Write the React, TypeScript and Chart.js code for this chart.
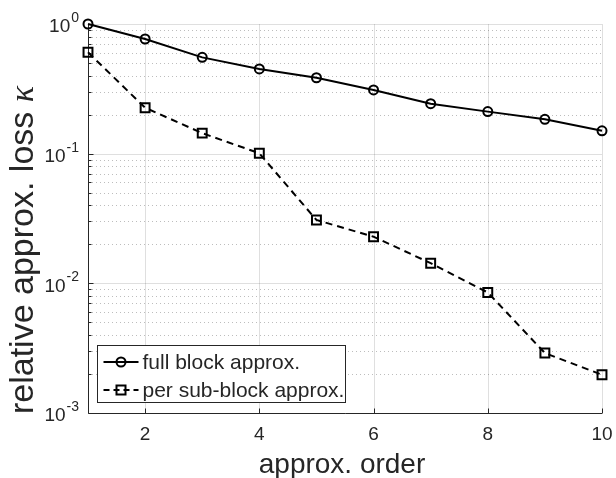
import { useEffect, useRef } from "react";
import { Chart, registerables } from "chart.js";

Chart.register(...registerables);

const orders = [1, 2, 3, 4, 5, 6, 7, 8, 9, 10];
const fullBlock = [1.0, 0.766, 0.553, 0.45, 0.385, 0.31, 0.243, 0.211, 0.184, 0.15];
const perSubBlock = [0.605, 0.226, 0.144, 0.1007, 0.0308, 0.0229, 0.0143, 0.0085, 0.0029, 0.00197];
const xTicks = [2, 4, 6, 8, 10];
const yDecades = [-3, -2, -1, 0];
const seriesNames = ["full block approx.", "per sub-block approx."];
const xTitle = "approx. order";
const yTitle = "relative approx. loss ";
const yTitleSymbol = "κ";

const FONT = '"Liberation Sans", Arial, Helvetica, sans-serif';
const SERIF_IT = 'italic 34px "Liberation Serif", "DejaVu Serif", serif';
const TEXT = "#262626";

const matlabPlugin = {
  id: "matlabLook",
  beforeDatasetsDraw(chart: any) {
    const { ctx, chartArea: a, scales } = chart;
    const x = scales.x;
    const y = scales.y;
    ctx.save();
    // minor grid (dotted)
    ctx.lineWidth = 1;
    ctx.strokeStyle = "rgba(38,38,38,0.3)";
    ctx.setLineDash([1, 3]);
    for (let d = -3; d < 0; d++) {
      for (let m = 2; m <= 9; m++) {
        const py = Math.round(y.getPixelForValue(m * Math.pow(10, d))) + 0.5;
        ctx.beginPath();
        ctx.moveTo(a.left, py);
        ctx.lineTo(a.right, py);
        ctx.stroke();
      }
    }
    // major grid
    ctx.setLineDash([]);
    ctx.strokeStyle = "rgba(38,38,38,0.15)";
    for (const t of xTicks) {
      const px = Math.round(x.getPixelForValue(t)) + 0.5;
      ctx.beginPath();
      ctx.moveTo(px, a.top);
      ctx.lineTo(px, a.bottom);
      ctx.stroke();
    }
    for (const d of yDecades) {
      const py = Math.round(y.getPixelForValue(Math.pow(10, d))) + 0.5;
      ctx.beginPath();
      ctx.moveTo(a.left, py);
      ctx.lineTo(a.right, py);
      ctx.stroke();
    }
    // axis lines
    ctx.strokeStyle = TEXT;
    ctx.lineWidth = 1;
    const lx = Math.round(a.left) + 0.5;
    const by = Math.round(a.bottom) + 0.5;
    ctx.beginPath();
    ctx.moveTo(lx, a.top);
    ctx.lineTo(lx, by);
    ctx.lineTo(a.right, by);
    ctx.stroke();
    // ticks (inward)
    ctx.beginPath();
    for (const t of xTicks) {
      const px = Math.round(x.getPixelForValue(t)) + 0.5;
      ctx.moveTo(px, by);
      ctx.lineTo(px, by - 5);
    }
    for (let d = -3; d <= 0; d++) {
      const py = Math.round(y.getPixelForValue(Math.pow(10, d))) + 0.5;
      ctx.moveTo(lx, py);
      ctx.lineTo(lx + 5, py);
      if (d < 0) {
        for (let m = 2; m <= 9; m++) {
          const pm = Math.round(y.getPixelForValue(m * Math.pow(10, d))) + 0.5;
          ctx.moveTo(lx, pm);
          ctx.lineTo(lx + 3, pm);
        }
      }
    }
    ctx.stroke();
    // x tick labels
    ctx.fillStyle = TEXT;
    ctx.font = `19px ${FONT}`;
    ctx.textAlign = "center";
    ctx.textBaseline = "middle";
    for (const t of xTicks) {
      ctx.fillText(String(t), x.getPixelForValue(t), a.bottom + 22);
    }
    // y tick labels 10^d
    for (const d of yDecades) {
      const py = y.getPixelForValue(Math.pow(10, d));
      const exp = String(d);
      ctx.font = `14px ${FONT}`;
      const ew = ctx.measureText(exp).width;
      const right = a.left - 9;
      ctx.textAlign = "right";
      ctx.textBaseline = "middle";
      ctx.fillText(exp, right, py - 6);
      ctx.font = `19px ${FONT}`;
      ctx.fillText("10", right - ew - 1, py + 3);
    }
    // x title
    ctx.font = `28px ${FONT}`;
    ctx.textAlign = "center";
    ctx.textBaseline = "alphabetic";
    ctx.fillText(xTitle, (a.left + a.right) / 2 - 3, 473);
    // y title
    ctx.save();
    ctx.translate(33, 250);
    ctx.rotate(-Math.PI / 2);
    ctx.font = `34px ${FONT}`;
    const w1 = ctx.measureText(yTitle).width;
    ctx.font = SERIF_IT;
    const w2 = ctx.measureText(yTitleSymbol).width;
    const start = -(w1 + w2) / 2;
    ctx.textAlign = "left";
    ctx.textBaseline = "alphabetic";
    ctx.font = `34px ${FONT}`;
    ctx.fillText(yTitle, start, 0);
    ctx.font = SERIF_IT;
    ctx.fillText(yTitleSymbol, start + w1, 0);
    ctx.restore();
    ctx.restore();
  },
  afterDatasetsDraw(chart: any) {
    const { ctx, chartArea: a } = chart;
    ctx.save();
    const bx = Math.round(a.left) + 9.5;
    const bw = 248;
    const bh = 57;
    const byTop = Math.round(a.bottom) - 67.5;
    ctx.fillStyle = "#ffffff";
    ctx.fillRect(bx, byTop, bw, bh);
    ctx.strokeStyle = TEXT;
    ctx.lineWidth = 1;
    ctx.strokeRect(bx, byTop, bw, bh);
    const rows = [byTop + 16.5, byTop + 44.5];
    ctx.lineWidth = 2;
    ctx.strokeStyle = "#000000";
    // entry 1
    ctx.beginPath();
    ctx.moveTo(bx + 6, rows[0]);
    ctx.lineTo(bx + 41, rows[0]);
    ctx.stroke();
    ctx.beginPath();
    ctx.arc(bx + 23.5, rows[0], 4.5, 0, Math.PI * 2);
    ctx.stroke();
    // entry 2
    ctx.setLineDash([6, 4]);
    ctx.beginPath();
    ctx.moveTo(bx + 6, rows[1]);
    ctx.lineTo(bx + 41, rows[1]);
    ctx.stroke();
    ctx.setLineDash([]);
    ctx.strokeRect(bx + 19, rows[1] - 4.5, 9, 9);
    ctx.fillStyle = TEXT;
    ctx.font = `21px ${FONT}`;
    ctx.textAlign = "left";
    ctx.textBaseline = "middle";
    ctx.fillText(seriesNames[0], bx + 45, rows[0] + 1);
    ctx.fillText(seriesNames[1], bx + 45, rows[1] + 1);
    ctx.restore();
  },
};

export default function App() {
  const ref = useRef<HTMLCanvasElement | null>(null);
  useEffect(() => {
    if (!ref.current) return;
    const chart = new Chart(ref.current, {
      type: "line",
      data: {
        datasets: [
          {
            label: seriesNames[0],
            data: orders.map((o, i) => ({ x: o, y: fullBlock[i] })),
            borderColor: "#000000",
            borderWidth: 2,
            pointStyle: "circle",
            pointRadius: 4.5,
            pointBorderWidth: 2,
            pointBorderColor: "#000000",
            pointBackgroundColor: "rgba(0,0,0,0)",
            fill: false,
            tension: 0,
            clip: false as any,
          },
          {
            label: seriesNames[1],
            data: orders.map((o, i) => ({ x: o, y: perSubBlock[i] })),
            borderColor: "#000000",
            borderWidth: 2,
            borderDash: [7, 5],
            pointStyle: "rect",
            pointRadius: 6.3,
            pointBorderWidth: 2,
            pointBorderColor: "#000000",
            pointBackgroundColor: "rgba(0,0,0,0)",
            fill: false,
            tension: 0,
            clip: false as any,
          },
        ],
      },
      options: {
        responsive: false,
        animation: false,
        layout: { padding: { left: 88, right: 14, top: 24, bottom: 65 } },
        plugins: { legend: { display: false }, tooltip: { enabled: false } },
        scales: {
          x: { type: "linear", min: 1, max: 10, display: false },
          y: { type: "logarithmic", min: 0.001, max: 1, display: false },
        },
      },
      plugins: [matlabPlugin],
    });
    return () => chart.destroy();
  }, []);
  return (
    <div style={{ position: "fixed", left: 0, top: 0, width: 616, height: 478, background: "#fff" }}>
      <canvas ref={ref} width={616} height={478} style={{ width: 616, height: 478 }} />
    </div>
  );
}
